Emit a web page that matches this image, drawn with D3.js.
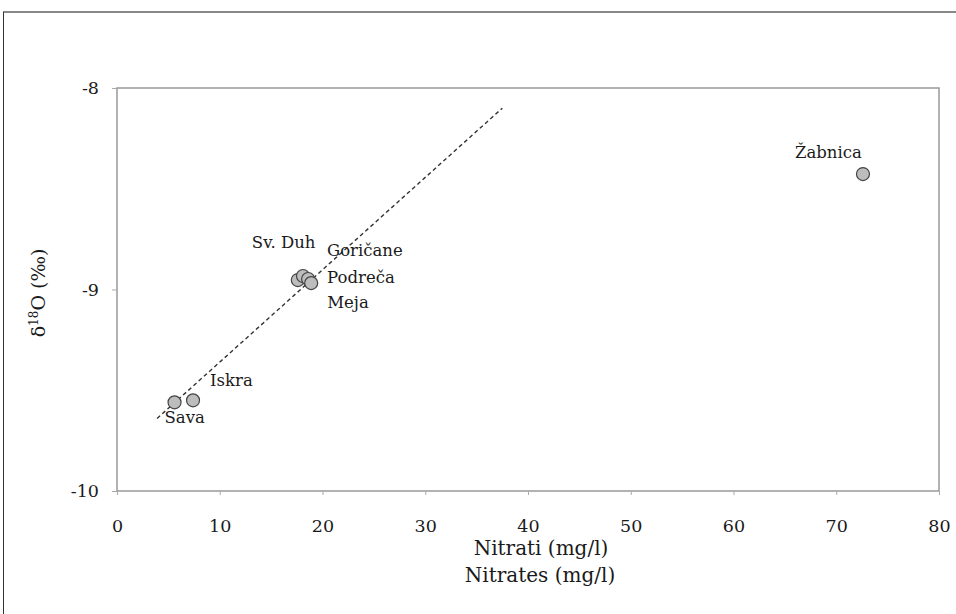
<!DOCTYPE html>
<html>
<head>
<meta charset="utf-8">
<script src="https://cdn.jsdelivr.net/npm/d3@7"></script>
<style>
  body { margin: 0; background: #fff; }
  svg text { font-family: "DejaVu Serif", serif; fill: #1a1a1a; }
</style>
</head>
<body>
<svg id="chart" width="956" height="614"></svg>
<script>
// data
const sites = ["Sava", "Iskra", "Sv. Duh", "Goričane", "Podreča", "Meja", "Žabnica"];
const nitrate = [5.6, 7.4, 17.6, 18.1, 18.6, 18.9, 72.6];
const d18O = [-9.56, -9.55, -8.953, -8.933, -8.948, -8.968, -8.427];
const trendX = [3.9, 37.5];
const trendY = [-9.64, -8.10];
const xTicks = [0, 10, 20, 30, 40, 50, 60, 70, 80];
const yTicks = [-8, -9, -10];

// label offsets from the point (px)
const labelPos = {
    "Sava": [-10, 21],
    "Iskra": [17, -14],
    "Sv. Duh": [-46, -32],
    "Goričane": [24, -20],
    "Podreča": [19, 4],
    "Meja": [16, 25],
    "Žabnica": [-68, -16]
};

const serif = "DejaVu Serif, serif";
const svg = d3.select("#chart");

// outer frame
svg.append("line")
    .attr("x1", 3).attr("x2", 956)
    .attr("y1", 12).attr("y2", 12)
    .attr("stroke", "#888").attr("stroke-width", 2);
svg.append("line")
    .attr("x1", 3.5).attr("x2", 3.5)
    .attr("y1", 12).attr("y2", 614)
    .attr("stroke", "#333").attr("stroke-width", 1);

const x = d3.scaleLinear().domain([0, 80]).range([117, 939]);
const y = d3.scaleLinear().domain([-10, -8]).range([491, 88]);

// plot box
svg.append("rect")
    .attr("x", x(0)).attr("y", y(-8))
    .attr("width", x(80) - x(0)).attr("height", y(-10) - y(-8))
    .attr("fill", "none")
    .attr("stroke", "#999").attr("stroke-width", 1.5);

// axes
let xAxis = svg.append("g")
    .attr("transform", `translate(0,${y(-10)})`)
    .call(d3.axisBottom(x).tickValues(xTicks).tickSize(4).tickFormat(d3.format("d")));
let yAxis = svg.append("g")
    .attr("transform", `translate(${x(0)},0)`)
    .call(d3.axisLeft(y).tickValues(yTicks).tickSize(5).tickFormat(d => d < 0 ? "-" + Math.abs(d) : d));

[xAxis, yAxis].forEach(a => {
    a.attr("font-family", serif);
    a.select(".domain").remove();
    a.selectAll(".tick line").attr("stroke", "#aaa");
    a.selectAll(".tick text")
        .attr("font-size", 17.5)
        .attr("fill", "#111");
});
xAxis.selectAll(".tick text").attr("y", 41).attr("dy", 0);
yAxis.selectAll(".tick text").attr("x", -18);

// trend line
svg.append("line")
    .attr("x1", x(trendX[0])).attr("y1", y(trendY[0]))
    .attr("x2", x(trendX[1])).attr("y2", y(trendY[1]))
    .attr("stroke", "#333")
    .attr("stroke-width", 1.4)
    .attr("stroke-dasharray", "4,3");

// points
const pts = sites.map((s, i) => ({name: s, x: nitrate[i], y: d18O[i]}));

svg.selectAll(".pt")
    .data(pts)
    .enter().append("circle")
    .attr("class", "pt")
    .attr("cx", d => x(d.x))
    .attr("cy", d => y(d.y))
    .attr("r", 6.5)
    .attr("fill", "#bdbdbd")
    .attr("stroke", "#444")
    .attr("stroke-width", 1.2);

svg.selectAll(".lbl")
    .data(pts)
    .enter().append("text")
    .attr("class", "lbl")
    .attr("x", d => x(d.x) + labelPos[d.name][0])
    .attr("y", d => y(d.y) + labelPos[d.name][1])
    .attr("font-size", 16.5)
    .text(d => d.name);

// axis titles
svg.append("text")
    .attr("x", 541).attr("y", 555)
    .attr("text-anchor", "middle")
    .attr("font-size", 20)
    .text("Nitrati (mg/l)");
svg.append("text")
    .attr("x", 540).attr("y", 582)
    .attr("text-anchor", "middle")
    .attr("font-size", 20)
    .text("Nitrates (mg/l)");

let yt = svg.append("text")
    .attr("transform", "translate(45,293) rotate(-90)")
    .attr("text-anchor", "middle")
    .attr("font-size", 19);
yt.append("tspan").text("δ");
yt.append("tspan").attr("font-size", 12).attr("dy", -7).text("18");
yt.append("tspan").attr("dy", 7).text("O (‰)");
</script>
</body>
</html>
